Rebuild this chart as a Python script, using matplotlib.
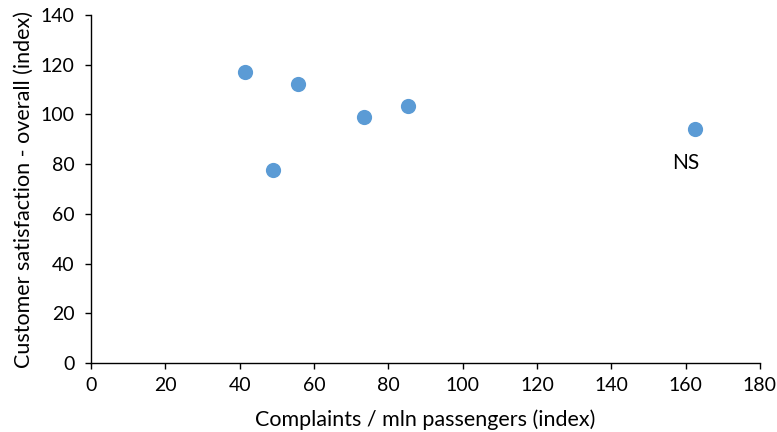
import matplotlib
matplotlib.use('Agg')
import matplotlib.pyplot as plt

# complaints per mln passengers (index) vs overall satisfaction (index)
complaints = [41.5, 49.0, 55.8, 73.5, 85.3, 162.4]
satisfaction = [117.0, 77.6, 112.3, 99.0, 103.5, 94.0]
labels = ['', '', '', '', '', 'NS']

x_ticks = list(range(0, 181, 20))
y_ticks = list(range(0, 141, 20))

plt.rcParams['font.family'] = ['Lato', 'DejaVu Sans']

fig = plt.figure(figsize=(7.77, 4.32), dpi=100)
ax = fig.add_axes([0.1171, 0.1597, 0.8609, 0.8056])

ax.scatter(complaints, satisfaction, s=120, color='#5B9BD5', zorder=3, linewidths=0)

for x, y, lab in zip(complaints, satisfaction, labels):
    if lab:
        ax.annotate(lab, (x, y), xytext=(-6, -24), textcoords='offset points',
                    ha='center', va='center', fontsize=15, color='black')

ax.set_xlim(0, 180)
ax.set_ylim(0, 140)
ax.set_xticks(x_ticks)
ax.set_yticks(y_ticks)
ax.spines['top'].set_visible(False)
ax.spines['right'].set_visible(False)
for side in ['left', 'bottom']:
    ax.spines[side].set_color('black')
    ax.spines[side].set_linewidth(1)
ax.tick_params(direction='out', length=4, width=1, labelsize=14, colors='black')
ax.tick_params(axis='y', pad=8)
ax.tick_params(axis='x', pad=6)

ax.set_xlabel('Complaints / mln passengers (index)', fontsize=15.5, labelpad=11)
ax.set_ylabel('Customer satisfaction - overall (index)', fontsize=15.5, labelpad=5)

fig.savefig('out.png', dpi=100)
